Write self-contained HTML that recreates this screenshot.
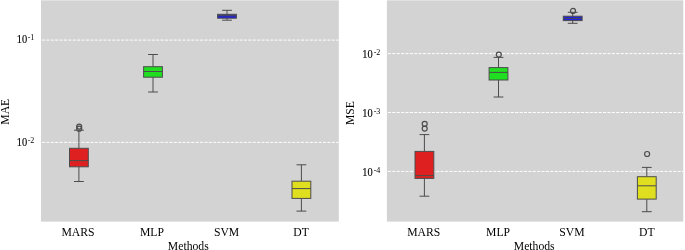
<!DOCTYPE html>
<html><head><meta charset="utf-8"><title>Boxplots</title>
<style>html,body{margin:0;padding:0;background:#fff;width:685px;height:250px;overflow:hidden}svg{display:block}</style>
</head><body>
<svg width="685" height="250" viewBox="0 0 685 250" font-family='"Liberation Serif", serif' fill="#000">
<rect width="685" height="250" fill="#fff"/>
<rect x="41" y="0.35" width="297.80" height="221.25" fill="#d3d3d3" />
<line x1="41" y1="40.1" x2="338.8" y2="40.1" stroke="#fff" stroke-width="1.0" stroke-dasharray="3.065 1.325" stroke-dashoffset="3.39" />
<line x1="41" y1="142.35" x2="338.8" y2="142.35" stroke="#fff" stroke-width="1.0" stroke-dasharray="3.065 1.325" stroke-dashoffset="3.39" />
<g stroke="#4c4c4c" stroke-width="1.0">
<line x1="78.9" y1="130.2" x2="78.9" y2="148.3" />
<line x1="78.9" y1="166.8" x2="78.9" y2="181.5" />
<line x1="74.0" y1="130.2" x2="83.80000000000001" y2="130.2" />
<line x1="74.0" y1="181.5" x2="83.80000000000001" y2="181.5" />
<rect x="69.5" y="148.3" width="18.8" height="18.5" fill="#df2020" />
<line x1="69.5" y1="160.6" x2="88.30000000000001" y2="160.6" />
<circle cx="79.20" cy="126.6" r="2.5" fill="none" stroke-width="1.2" />
<circle cx="79.20" cy="128.7" r="2.5" fill="none" stroke-width="1.2" />
<line x1="153.0" y1="54.5" x2="153.0" y2="66.7" />
<line x1="153.0" y1="77.2" x2="153.0" y2="92.0" />
<line x1="148.1" y1="54.5" x2="157.9" y2="54.5" />
<line x1="148.1" y1="92.0" x2="157.9" y2="92.0" />
<rect x="143.6" y="66.7" width="18.8" height="10.5" fill="#20df20" />
<line x1="143.6" y1="71.5" x2="162.4" y2="71.5" />
<line x1="227.0" y1="10.3" x2="227.0" y2="14.3" />
<line x1="227.0" y1="18.2" x2="227.0" y2="20.2" />
<line x1="222.1" y1="10.3" x2="231.9" y2="10.3" />
<line x1="222.1" y1="20.2" x2="231.9" y2="20.2" />
<rect x="217.6" y="14.3" width="18.8" height="3.8999999999999986" fill="#2020df" />
<line x1="217.6" y1="15.7" x2="236.4" y2="15.7" />
<line x1="301.4" y1="164.8" x2="301.4" y2="181.2" />
<line x1="301.4" y1="198.4" x2="301.4" y2="211.1" />
<line x1="296.5" y1="164.8" x2="306.29999999999995" y2="164.8" />
<line x1="296.5" y1="211.1" x2="306.29999999999995" y2="211.1" />
<rect x="292.0" y="181.2" width="18.8" height="17.200000000000017" fill="#dfdf20" />
<line x1="292.0" y1="188.6" x2="310.79999999999995" y2="188.6" />
</g>
<rect x="386.9" y="0.35" width="296.40" height="221.25" fill="#d3d3d3" />
<line x1="386.9" y1="53.6" x2="683.3" y2="53.6" stroke="#fff" stroke-width="1.0" stroke-dasharray="3.065 1.325" stroke-dashoffset="3.39" />
<line x1="386.9" y1="112.5" x2="683.3" y2="112.5" stroke="#fff" stroke-width="1.0" stroke-dasharray="3.065 1.325" stroke-dashoffset="3.39" />
<line x1="386.9" y1="171.4" x2="683.3" y2="171.4" stroke="#fff" stroke-width="1.0" stroke-dasharray="3.065 1.325" stroke-dashoffset="3.39" />
<g stroke="#4c4c4c" stroke-width="1.0">
<line x1="424.4" y1="134.6" x2="424.4" y2="151.4" />
<line x1="424.4" y1="178.4" x2="424.4" y2="196.2" />
<line x1="419.5" y1="134.6" x2="429.29999999999995" y2="134.6" />
<line x1="419.5" y1="196.2" x2="429.29999999999995" y2="196.2" />
<rect x="415.0" y="151.4" width="18.8" height="27.0" fill="#df2020" />
<line x1="415.0" y1="175.6" x2="433.79999999999995" y2="175.6" />
<circle cx="424.70" cy="123.8" r="2.5" fill="none" stroke-width="1.2" />
<circle cx="424.70" cy="128.6" r="2.5" fill="none" stroke-width="1.2" />
<line x1="498.5" y1="57.4" x2="498.5" y2="67.6" />
<line x1="498.5" y1="80.0" x2="498.5" y2="97.0" />
<line x1="493.6" y1="57.4" x2="503.4" y2="57.4" />
<line x1="493.6" y1="97.0" x2="503.4" y2="97.0" />
<rect x="489.1" y="67.6" width="18.8" height="12.400000000000006" fill="#20df20" />
<line x1="489.1" y1="72.4" x2="507.9" y2="72.4" />
<circle cx="498.80" cy="54.6" r="2.5" fill="none" stroke-width="1.2" />
<line x1="572.7" y1="12.3" x2="572.7" y2="16.2" />
<line x1="572.7" y1="20.6" x2="572.7" y2="23.3" />
<line x1="567.8000000000001" y1="12.3" x2="577.6" y2="12.3" />
<line x1="567.8000000000001" y1="23.3" x2="577.6" y2="23.3" />
<rect x="563.3000000000001" y="16.2" width="18.8" height="4.400000000000002" fill="#2020df" />
<line x1="563.3000000000001" y1="18.4" x2="582.1" y2="18.4" />
<circle cx="573.00" cy="10.9" r="2.5" fill="none" stroke-width="1.2" />
<line x1="646.8" y1="167.4" x2="646.8" y2="176.7" />
<line x1="646.8" y1="199.1" x2="646.8" y2="211.7" />
<line x1="641.9" y1="167.4" x2="651.6999999999999" y2="167.4" />
<line x1="641.9" y1="211.7" x2="651.6999999999999" y2="211.7" />
<rect x="637.4" y="176.7" width="18.8" height="22.400000000000006" fill="#dfdf20" />
<line x1="637.4" y1="185.8" x2="656.1999999999999" y2="185.8" />
<circle cx="647.10" cy="154.0" r="2.5" fill="none" stroke-width="1.2" />
</g>
<g fill="#000" style="opacity:0.999">
<text font-size="12.0" stroke="#000" stroke-width="0.15" transform="translate(16.78 43.4) scale(0.87 1)">10</text><text x="27.70" y="40.40" font-size="8.0">-1</text>
<text font-size="12.0" stroke="#000" stroke-width="0.15" transform="translate(16.78 145.8) scale(0.87 1)">10</text><text x="27.70" y="142.80" font-size="8.0">-2</text>
<text font-size="12.0" stroke="#000" stroke-width="0.15" transform="translate(362.18 57.6) scale(0.87 1)">10</text><text x="373.70" y="54.60" font-size="8.0">-2</text>
<text font-size="12.0" stroke="#000" stroke-width="0.15" transform="translate(362.18 116.8) scale(0.87 1)">10</text><text x="373.70" y="113.80" font-size="8.0">-3</text>
<text font-size="12.0" stroke="#000" stroke-width="0.15" transform="translate(362.18 175.8) scale(0.87 1)">10</text><text x="373.70" y="172.80" font-size="8.0">-4</text>
<text x="0" y="0" font-size="11.7" text-anchor="middle" transform="translate(8.7 111.75) rotate(-90)">MAE</text>
<text x="0" y="0" font-size="11.7" text-anchor="middle" transform="translate(353.7 113.1) rotate(-90)">MSE</text>
<text x="78.0" y="235.9" font-size="11.7" text-anchor="middle">MARS</text>
<text x="152.0" y="235.9" font-size="11.7" text-anchor="middle">MLP</text>
<text x="226.6" y="235.9" font-size="11.7" text-anchor="middle">SVM</text>
<text x="301.0" y="235.9" font-size="11.7" text-anchor="middle">DT</text>
<text x="423.8" y="235.9" font-size="11.7" text-anchor="middle">MARS</text>
<text x="498.1" y="235.9" font-size="11.7" text-anchor="middle">MLP</text>
<text x="572.0" y="235.9" font-size="11.7" text-anchor="middle">SVM</text>
<text x="646.8" y="235.9" font-size="11.7" text-anchor="middle">DT</text>
<text x="188.3" y="249.5" font-size="11.7" text-anchor="middle">Methods</text>
<text x="534.2" y="249.5" font-size="11.7" text-anchor="middle">Methods</text>
</g>
</svg>
</body></html>
